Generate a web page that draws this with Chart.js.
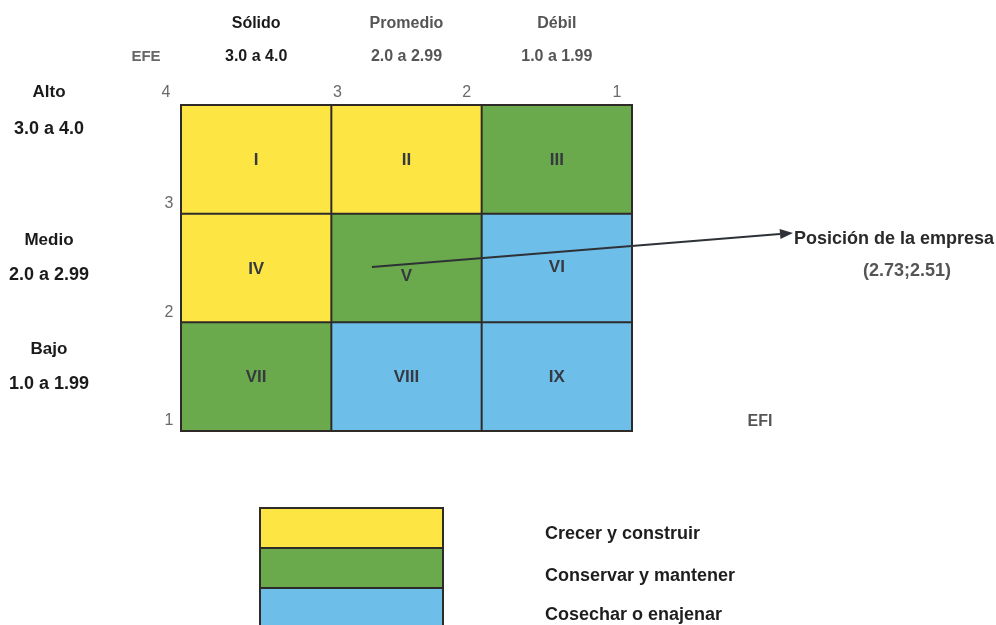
<!DOCTYPE html>
<html lang="es">
<head>
<meta charset="utf-8">
<title>Matriz Interna-Externa (IE)</title>
<script src="https://cdn.jsdelivr.net/npm/chart.js@4.4.1/dist/chart.umd.min.js"></script>
<style>
  html, body { margin: 0; padding: 0; background: #ffffff; }
  #wrap { position: relative; width: 996px; height: 625px; }
  canvas { display: block; }
</style>
</head>
<body>
<div id="wrap"><canvas id="ie" width="996" height="625"></canvas></div>
<script>
// Axis ticks (EFI runs from 4 on the left to 1 on the right; EFE from 1 up to 4)
const efiTicks = [4, 3, 2, 1];
const efeTicks = [4, 3, 2, 1];

// Column headers (EFI strength) and row headers (EFE level)
const efiLevels = ['Sólido', 'Promedio', 'Débil'];
const efiRanges = ['3.0 a 4.0', '2.0 a 2.99', '1.0 a 1.99'];
const efeLevels = ['Alto', 'Medio', 'Bajo'];
const efeRanges = ['3.0 a 4.0', '2.0 a 2.99', '1.0 a 1.99'];

// The nine cells, row by row from the top-left, and the strategy zone of each
const cellLabels = ['I', 'II', 'III', 'IV', 'V', 'VI', 'VII', 'VIII', 'IX'];
const cellZones  = [0, 0, 1, 0, 1, 2, 1, 2, 2];

// Strategy zones and their colours
const strategies = ['Crecer y construir', 'Conservar y mantener', 'Cosechar o enajenar'];
const zoneColors = ['#FDE543', '#6AA94C', '#6EBEEA'];

// Company position (EFI ; EFE)
const positionEFI = [2.73];
const positionEFE = [2.51];

// ---- layout ----
const LINE = '#2d2a28';
const FONT = '"Liberation Sans", Arial, sans-serif';
const LEFT_COL_X = 49;
const LEFT_TITLE_Y = [92, 240, 349];
const LEFT_RANGE_Y = [129, 275, 384];
const HEAD_Y = 24, RANGE_Y = 57, TICK_Y = 93;
const CELL_NUDGE_Y = [0, 0, 0, 0, 7, -2, 0, 0, 0];
const TAG_X = 793, TAG_Y = 233;
const LEGEND = { x: 260, y: 508, w: 183, h: 40, textX: 545 };
const LEGEND_TEXT_Y = [534, 576, 615];

function txt(ctx, s, x, y, font, color, align) {
  ctx.font = font;
  ctx.fillStyle = color;
  ctx.textAlign = align || 'center';
  ctx.textBaseline = 'middle';
  ctx.fillText(s, x, y);
}

const matrixPlugin = {
  id: 'ieMatrix',
  beforeDatasetsDraw(chart) {
    const ctx = chart.ctx;
    const xs = chart.scales.x, ys = chart.scales.y;
    ctx.save();
    // cells
    for (let r = 0; r < 3; r++) {
      for (let c = 0; c < 3; c++) {
        const i = r * 3 + c;
        const x0 = xs.getPixelForValue(efiTicks[c]);
        const x1 = xs.getPixelForValue(efiTicks[c + 1]);
        const y0 = ys.getPixelForValue(efeTicks[r]);
        const y1 = ys.getPixelForValue(efeTicks[r + 1]);
        ctx.fillStyle = zoneColors[cellZones[i]];
        ctx.fillRect(x0, y0, x1 - x0, y1 - y0);
      }
    }
    // grid lines
    ctx.strokeStyle = LINE;
    ctx.lineWidth = 2;
    const left = xs.getPixelForValue(efiTicks[0]);
    const right = xs.getPixelForValue(efiTicks[3]);
    const top = ys.getPixelForValue(efeTicks[0]);
    const bottom = ys.getPixelForValue(efeTicks[3]);
    efiTicks.forEach(v => {
      const px = xs.getPixelForValue(v);
      ctx.beginPath(); ctx.moveTo(px, top - 1); ctx.lineTo(px, bottom + 1); ctx.stroke();
    });
    efeTicks.forEach(v => {
      const py = ys.getPixelForValue(v);
      ctx.beginPath(); ctx.moveTo(left - 1, py); ctx.lineTo(right + 1, py); ctx.stroke();
    });
    // cell numerals
    for (let r = 0; r < 3; r++) {
      for (let c = 0; c < 3; c++) {
        const i = r * 3 + c;
        const cx = xs.getPixelForValue((efiTicks[c] + efiTicks[c + 1]) / 2);
        const cy = ys.getPixelForValue((efeTicks[r] + efeTicks[r + 1]) / 2);
        txt(ctx, cellLabels[i], cx, cy + 1 + CELL_NUDGE_Y[i], 'bold 17px ' + FONT, '#363a40');
      }
    }
    ctx.restore();
  },
  afterDraw(chart) {
    const ctx = chart.ctx;
    const xs = chart.scales.x, ys = chart.scales.y;
    ctx.save();

    // column headers
    for (let c = 0; c < 3; c++) {
      const cx = xs.getPixelForValue((efiTicks[c] + efiTicks[c + 1]) / 2);
      const strong = c === 0;
      txt(ctx, efiLevels[c], cx, HEAD_Y, 'bold 16px ' + FONT, strong ? '#1a1a1a' : '#555555');
      txt(ctx, efiRanges[c], cx, RANGE_Y, 'bold 16px ' + FONT, strong ? '#1a1a1a' : '#555555');
    }
    txt(ctx, 'EFE', 146, RANGE_Y, 'bold 15px ' + FONT, '#666666');

    // EFI ticks along the top edge
    const tickShift = [-15, 6, -15, -15];
    efiTicks.forEach((v, k) => {
      txt(ctx, String(v), xs.getPixelForValue(v) + tickShift[k], TICK_Y, '16px ' + FONT, '#6a6a6a');
    });
    // EFE ticks along the left edge (4 shares the corner with the EFI 4)
    efeTicks.forEach((v, k) => {
      if (k === 0) return;
      txt(ctx, String(v), xs.getPixelForValue(efiTicks[0]) - 12, ys.getPixelForValue(v) - 10, '16px ' + FONT, '#6a6a6a');
    });

    // row headers
    for (let r = 0; r < 3; r++) {
      txt(ctx, efeLevels[r], LEFT_COL_X, LEFT_TITLE_Y[r], 'bold 17px ' + FONT, '#1a1a1a');
      txt(ctx, efeRanges[r], LEFT_COL_X, LEFT_RANGE_Y[r], 'bold 18px ' + FONT, '#1a1a1a');
    }

    // EFI axis name
    txt(ctx, 'EFI', 760, 422, 'bold 16px ' + FONT, '#555555');

    // arrow from the company position to its tag
    const px = xs.getPixelForValue(positionEFI[0]);
    const py = ys.getPixelForValue(positionEFE[0]);
    const ang = Math.atan2(TAG_Y - py, TAG_X - px);
    const head = 13, half = 5;
    const bx = TAG_X - head * Math.cos(ang), by = TAG_Y - head * Math.sin(ang);
    ctx.strokeStyle = '#2e3236';
    ctx.lineWidth = 2;
    ctx.beginPath(); ctx.moveTo(px, py); ctx.lineTo(bx, by); ctx.stroke();
    ctx.fillStyle = '#2e3236';
    ctx.beginPath();
    ctx.moveTo(TAG_X, TAG_Y);
    ctx.lineTo(bx - half * Math.sin(ang), by + half * Math.cos(ang));
    ctx.lineTo(bx + half * Math.sin(ang), by - half * Math.cos(ang));
    ctx.closePath(); ctx.fill();

    txt(ctx, 'Posición de la empresa', TAG_X + 1, TAG_Y + 6, 'bold 18px ' + FONT, '#2a2a2a', 'left');
    txt(ctx, '(' + positionEFI[0].toFixed(2) + ';' + positionEFE[0].toFixed(2) + ')', 907, 271, 'bold 18px ' + FONT, '#555555');

    // strategy legend
    strategies.forEach((s, k) => {
      const y = LEGEND.y + k * LEGEND.h;
      ctx.fillStyle = zoneColors[k];
      ctx.fillRect(LEGEND.x, y, LEGEND.w, LEGEND.h);
      ctx.strokeStyle = LINE;
      ctx.lineWidth = 2;
      ctx.strokeRect(LEGEND.x, y, LEGEND.w, LEGEND.h);
    });
    strategies.forEach((s, k) => {
      txt(ctx, s, LEGEND.textX, LEGEND_TEXT_Y[k], 'bold 18px ' + FONT, '#1e1e1e', 'left');
    });

    ctx.restore();
  }
};

new Chart(document.getElementById('ie'), {
  type: 'scatter',
  data: {
    datasets: [{
      label: 'Posición de la empresa',
      data: positionEFI.map((v, i) => ({ x: v, y: positionEFE[i] })),
      pointRadius: 0,
      showLine: false
    }]
  },
  options: {
    responsive: false,
    animation: false,
    events: [],
    layout: { padding: { left: 181, top: 105, right: 364, bottom: 194 } },
    scales: {
      x: { type: 'linear', reverse: true, min: 1, max: 4, display: false },
      y: { type: 'linear', min: 1, max: 4, display: false }
    },
    plugins: { legend: { display: false }, tooltip: { enabled: false }, title: { display: false } }
  },
  plugins: [matrixPlugin]
});
</script>
</body>
</html>
